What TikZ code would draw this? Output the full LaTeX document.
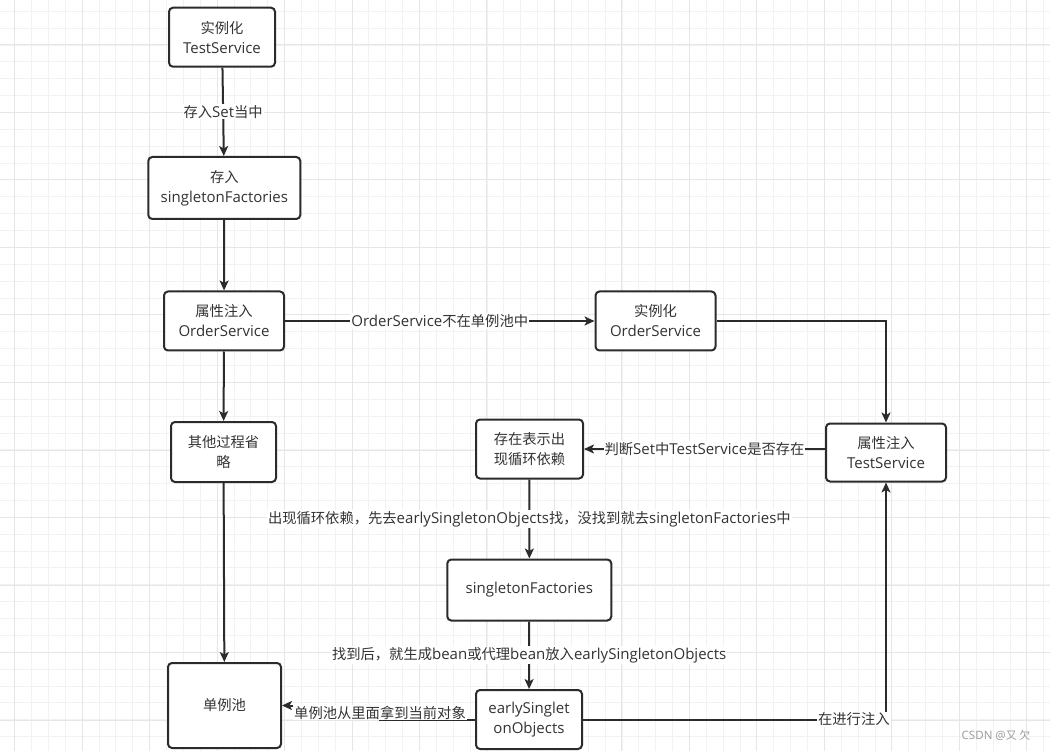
\documentclass[tikz,border=0pt]{standalone}
\usepackage{fontspec}
\setmainfont{Noto Sans CJK SC}
\newfontfamily\latf[Scale=1.05]{Open Sans}
\newcommand{\lt}[1]{{\latf #1}}
\usetikzlibrary{arrows.meta,calc}
\definecolor{linec}{HTML}{2B2B2B}
\definecolor{txtc}{HTML}{333333}
\definecolor{gridminor}{HTML}{F2F2F2}
\definecolor{gridmajor}{HTML}{E6E6E6}
\definecolor{wm}{HTML}{9A9A9A}
\tikzset{
  box/.style={draw=linec, line width=2pt, rounded corners=4pt, fill=white, align=center,
    inner sep=0pt, text=txtc, font=\fontsize{14.3}{20}\selectfont},
  arr/.style={draw=linec, line width=2pt, -{Stealth[length=10pt,width=9pt,inset=2.5pt]}},
  lbl/.style={fill=white, inner sep=1pt, text=txtc, font=\fontsize{14.3}{16}\selectfont},
}
\begin{document}
\begin{tikzpicture}[x=1pt,y=-1pt]
\useasboundingbox (0,0) rectangle (1050,751);
\fill[white] (0,0) rectangle (1050,751);
% grid
\foreach \i in {0,...,62} {\draw[gridminor, line width=1pt] ({-2.17+\i*16.87},0) -- ({-2.17+\i*16.87},751);}
\foreach \i in {0,...,45} {\draw[gridminor, line width=1pt] (0,{-5.6+\i*16.87}) -- (1050,{-5.6+\i*16.87});}
\foreach \i in {0,...,15} {\draw[gridmajor, line width=1pt] ({14.7+\i*67.47},0) -- ({14.7+\i*67.47},751);}
\foreach \i in {-1,...,10} {\draw[gridmajor, line width=1pt] (0,{45+\i*67.5}) -- (1050,{45+\i*67.5});}
% nodes
\node[box, minimum width=106pt, minimum height=59pt] (n1) at (222,37.2) {实例化\\\lt{TestService}};
\node[box, minimum width=152pt, minimum height=62pt] (n2) at (224.3,188) {存入\\\lt{singletonFactories}};
\node[box, minimum width=120pt, minimum height=59pt] (n3) at (224,321) {属性注入\\\lt{OrderService}};
\node[box, minimum width=120pt, minimum height=59pt] (n4) at (655.5,321) {实例化\\\lt{OrderService}};
\node[box, minimum width=105pt, minimum height=60pt] (n5) at (223.5,452) {其他过程省\\略};
\node[box, minimum width=107pt, minimum height=59pt] (n6) at (529.5,449) {存在表示出\\现循环依赖};
\node[box, minimum width=120pt, minimum height=58pt] (n7) at (886,452.5) {属性注入\\\lt{TestService}};
\node[box, minimum width=164pt, minimum height=61pt] (n8) at (529.3,590) {\lt{singletonFactories}};
\node[box, minimum width=113pt, minimum height=85pt] (n9) at (224.5,705.5) {单例池};
\node[box, minimum width=106pt, minimum height=59pt] (n10) at (529,719.5) {\lt{earlySinglet}\\\lt{onObjects}};
\coordinate (k1) at (380,719.5);
% edges
\draw[arr] (n1) -- node[lbl] {存入\lt{Set}当中} (n2);
\draw[arr] (n2) -- (n3);
\draw[arr] (n3) -- (n5);
\draw[arr] (n5) -- (n9);
\draw[arr] (n3) -- node[lbl] {\lt{OrderService}不在单例池中} (n4);
\draw[arr] (n4.east) -| (n7.north);
\draw[arr] (n7.west |- n6) -- node[lbl] {判断\lt{Set}中\lt{TestService}是否存在} (n6.east);
\draw[arr] (n6) -- node[lbl] {出现循环依赖，先去\lt{earlySingletonObjects}找，没找到就去\lt{singletonFactories}中} (n8);
\draw[arr] (n8) -- node[lbl] {找到后，就生成\lt{bean}或代理\lt{bean}放入\lt{earlySingletonObjects}} (n10);
\draw[arr] (n10.west) -- (k1) |- node[lbl, pos=0.25] {单例池从里面拿到当前对象} (n9.east);
\draw[arr] (n10.east) -| node[lbl, pos=0.447] {在进行注入} (n7.south);
% watermark
\node[text=wm, font=\fontsize{11}{12}\selectfont, inner sep=0pt] (wmk) at (996,735) {\lt{CSDN @}又 欠};
\end{tikzpicture}
\end{document}
